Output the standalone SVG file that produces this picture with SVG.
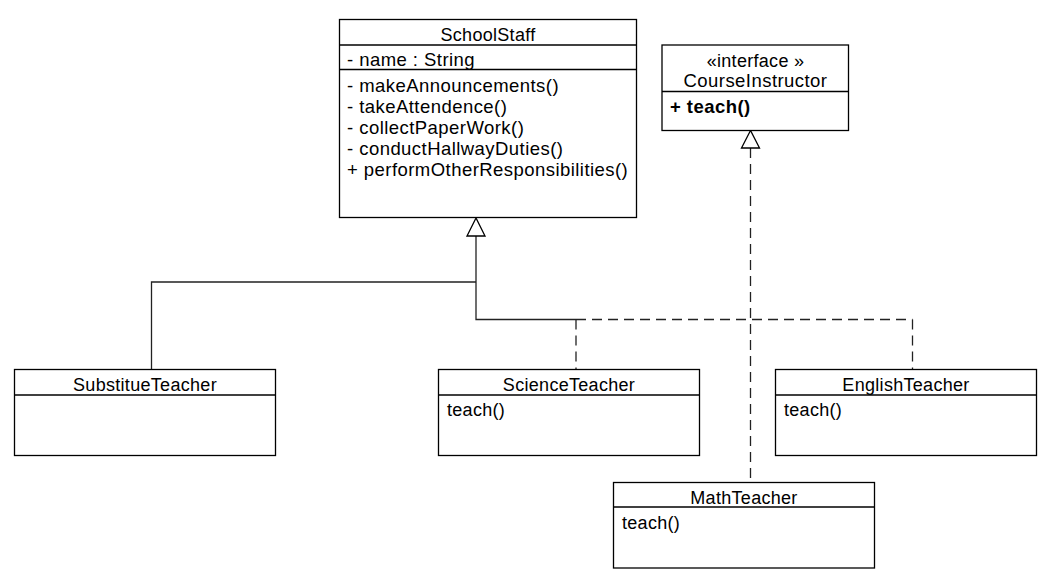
<svg xmlns="http://www.w3.org/2000/svg" width="1052" height="585" viewBox="0 0 1052 585">
<style>
.box{fill:#fff;stroke:#000;stroke-width:1.3}
.div{stroke:#000;stroke-width:1.3}
text{font-family:"Liberation Sans",Arial,sans-serif;font-size:18px;fill:#000;letter-spacing:0.3px}
.m{font-size:18.5px;letter-spacing:0.45px}
.c{text-anchor:middle}
.b{font-weight:bold}
.solid{fill:none;stroke:#222;stroke-width:1.3}
.dash{fill:none;stroke:#222;stroke-width:1.3;stroke-dasharray:10,6}
.head{fill:#fff;stroke:#000;stroke-width:1.3}
</style>
<rect width="1052" height="585" fill="#fff"/>
<g id="connectors">
<polyline class="solid" points="476,236 476,319.5 576,319.5"/>
<polyline class="solid" points="476,282 151.5,282 151.5,369.5"/>
<line class="dash" x1="576" y1="319.5" x2="912.5" y2="319.5"/>
<line class="dash" x1="576" y1="319.5" x2="576" y2="369.5"/>
<line class="dash" x1="912.5" y1="319.5" x2="912.5" y2="369.5"/>
<line class="dash" x1="750.5" y1="148" x2="750.5" y2="482.5"/>
<polygon class="head" points="476,218 467,236 485,236"/>
<polygon class="head" points="750.5,130.5 741.5,148 759.5,148"/>
</g>
<g id="SchoolStaff">
<rect class="box" x="339.5" y="19.5" width="297" height="198"/>
<line class="div" x1="339.5" y1="45" x2="636.5" y2="45"/>
<line class="div" x1="339.5" y1="69.5" x2="636.5" y2="69.5"/>
<text class="c" x="488" y="41">SchoolStaff</text>
<text class="m" x="347" y="65.5">- name : String</text>
<text class="m" x="347" y="91.5">- makeAnnouncements()</text>
<text class="m" x="347" y="112.5">- takeAttendence()</text>
<text class="m" x="347" y="133.5">- collectPaperWork()</text>
<text class="m" x="347" y="154.5">- conductHallwayDuties()</text>
<text class="m" x="347" y="175.5">+ performOtherResponsibilities()</text>
</g>
<g id="CourseInstructor">
<rect class="box" x="662" y="45" width="186.5" height="85.5"/>
<line class="div" x1="662" y1="91.5" x2="848.5" y2="91.5"/>
<text class="c" x="755.5" y="66.5">«interface »</text>
<text class="c m" x="755.5" y="87">CourseInstructor</text>
<text class="b m" x="670" y="112.5">+ teach()</text>
</g>
<g id="SubstitueTeacher">
<rect class="box" x="14.5" y="369.5" width="261" height="86"/>
<line class="div" x1="14.5" y1="395" x2="275.5" y2="395"/>
<text class="c" x="145" y="391">SubstitueTeacher</text>
</g>
<g id="ScienceTeacher">
<rect class="box" x="438.5" y="369.5" width="261" height="86"/>
<line class="div" x1="438.5" y1="395" x2="699.5" y2="395"/>
<text class="c" x="569" y="391">ScienceTeacher</text>
<text x="447" y="416">teach()</text>
</g>
<g id="EnglishTeacher">
<rect class="box" x="775.5" y="369.5" width="261" height="86"/>
<line class="div" x1="775.5" y1="395" x2="1036.5" y2="395"/>
<text class="c" x="906" y="391">EnglishTeacher</text>
<text x="784" y="416">teach()</text>
</g>
<g id="MathTeacher">
<rect class="box" x="613.5" y="482.5" width="261" height="85.5"/>
<line class="div" x1="613.5" y1="507" x2="874.5" y2="507"/>
<text class="c" x="744" y="503.5">MathTeacher</text>
<text x="622" y="528.5">teach()</text>
</g>
</svg>
